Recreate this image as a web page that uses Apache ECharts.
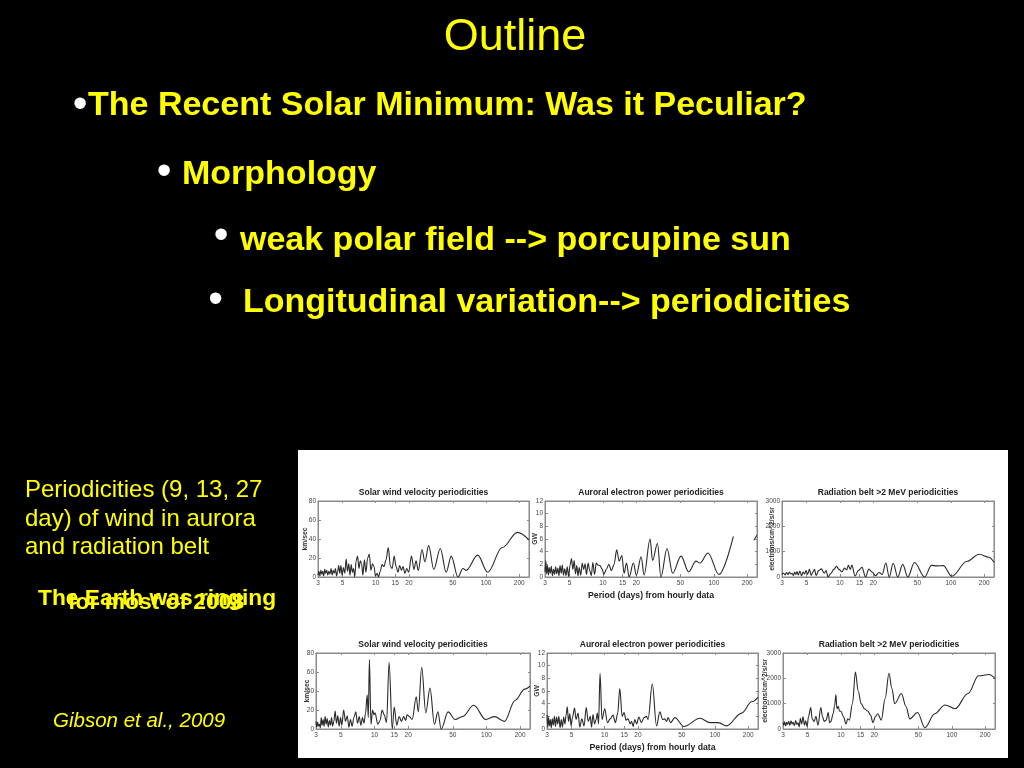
<!DOCTYPE html>
<html>
<head>
<meta charset="utf-8">
<script src="https://cdn.jsdelivr.net/npm/echarts@6/dist/echarts.min.js"></script>
<style>
html,body{margin:0;padding:0;background:#000;}
#chart{width:1024px;height:768px;}
</style>
</head>
<body>
<div id="chart"></div>
<script>
// ---------- DATA ----------
const xTickValues = [3, 5, 10, 15, 20, 50, 100, 200];
const X_MIN = 3, X_MAX = 245;

const chartTitles = [
  'Solar wind velocity periodicities',
  'Auroral electron power periodicities',
  'Radiation belt >2 MeV periodicities',
  'Solar wind velocity periodicities',
  'Auroral electron power periodicities',
  'Radiation belt >2 MeV periodicities'
];
const yNames = ['km/sec', 'GW', 'electrons/cm^2/s/sr', 'km/sec', 'GW', 'electrons/cm^2/s/sr'];
const yMaxes = [80, 12, 3000, 80, 12, 3000];
const yIntervals = [20, 2, 1000, 20, 2, 1000];
const xAxisName = 'Period (days) from hourly data';

// top-left: solar wind velocity (first period)
const swTopPeriod = [3.0,3.06,3.12,3.18,3.25,3.31,3.38,3.45,3.52,3.6,3.68,3.76,3.85,3.94,4.03,4.12,4.22,4.32,4.42,4.52,4.62,4.72,4.84,4.96,5.1,5.25,5.4,5.55,5.7,5.85,6.0,6.15,6.3,6.45,6.65,6.85,7.05,7.25,7.45,7.65,7.9,8.15,8.45,8.75,9.05,9.35,9.65,9.95,10.3,10.6,11.0,11.4,11.9,12.4,13.0,13.6,14.1,14.7,15.3,15.9,16.5,17.1,17.7,18.4,19.1,19.9,21.1,22.2,23.2,24.3,26.3,27.9,30.2,33.6,38.5,43.5,48.4,55.6,61.7,66,84,103.5,140,193,245];
const swTopValue  = [2,6,1,7,3,6,1,8,4,7,2,6,3,9,2,7,4,9,1,6,12,4,12,2,10,4,19,6,14,2,13,5,9,0,17,22,9,17,14,2,18,5,20,24,7,14,11,1,4,0,6,13,11,18,31,11,9,22,11,5,12,7,11,4,9,5,22,8,17,7,29,16,33,8,30,5,22,0,9,7,23,5,31,47,39];

// top-middle: auroral electron power (first period)
const auTopPeriod = [3.0,3.05,3.1,3.16,3.22,3.28,3.35,3.42,3.5,3.58,3.66,3.74,3.83,3.92,4.01,4.1,4.2,4.3,4.4,4.52,4.64,4.76,4.9,5.05,5.2,5.35,5.5,5.65,5.8,5.95,6.1,6.3,6.5,6.7,6.9,7.1,7.35,7.6,7.85,8.1,8.4,8.7,9.0,9.4,9.8,10.2,10.7,11.3,11.9,12.6,13.3,14.0,14.8,15.5,16.3,17.2,18.8,20.0,22.1,23.5,26.6,28.0,31.0,33.3,37.8,42.5,50.6,59.3,69,75,88.5,111,150,152,229,245];
const auTopValue  = [0.8,2.6,0.5,1.8,0.3,1.5,0.6,1.7,0.2,1.2,0.4,1.6,0.5,1.4,0.2,1.8,0.6,1.9,0.3,1.3,0.2,1.6,0.1,1.9,2.9,1.2,2.6,0.5,1.8,0.2,1.5,0.3,2.2,1.2,2.1,0.4,2.2,1.0,0.2,2.3,0.4,2.2,1.9,1.8,1.3,0.4,1.2,2.0,1.0,2.0,4.3,2.5,3.4,0.6,2.2,0,2.2,0.3,3.2,0.3,6.0,2.6,5.3,0,4.5,0.6,3.3,0.8,2.5,2.2,3.8,0.4,6.4,null,5.8,6.6];

// top-right: radiation belt (first period)
const rbTopPeriod = [3.0,3.1,3.2,3.3,3.4,3.5,3.6,3.7,3.8,3.9,4.0,4.1,4.2,4.35,4.5,4.65,4.8,4.95,5.1,5.3,5.5,5.7,5.9,6.1,6.4,6.8,7.2,7.5,7.8,8.3,8.8,9.3,9.8,10.4,11.0,11.5,11.9,12.4,12.8,13.7,14.6,15.8,17.0,18.2,19.5,20.9,22.5,24.0,25.9,27.8,30.2,33.2,36.8,40.9,47,58,67,75,85.6,102,140,180,220,245];
const rbTopValue  = [100,150,80,180,100,200,120,150,60,200,100,220,80,230,50,200,120,250,100,300,60,200,300,50,250,320,150,250,0,150,300,420,300,200,350,280,460,300,470,40,250,380,0,310,200,50,180,100,550,0,540,0,500,0,570,0,460,440,450,30,620,900,780,580];

// bottom-left: solar wind velocity (second period)
const swBotPeriod = [3.0,3.05,3.1,3.16,3.22,3.28,3.34,3.4,3.47,3.54,3.62,3.7,3.78,3.86,3.95,4.04,4.13,4.22,4.33,4.45,4.57,4.7,4.83,4.97,5.1,5.3,5.5,5.7,5.9,6.1,6.3,6.55,6.8,7.05,7.3,7.55,7.8,8.05,8.3,8.6,8.8,9.0,9.3,9.6,9.9,10.1,10.7,11.2,11.7,12.2,12.8,13.5,14.4,15.0,15.8,16.6,17.4,18.2,19.0,19.5,20.5,21.7,23.6,24.6,26.4,28.7,31.3,34.3,36.8,39.4,45.5,52.5,61,77,98.6,118,145,180,220,245];
const swBotValue  = [8,2,7,3,5,1,12,4,10,3,13,5,11,2,9,4,12,3,8,19,6,14,3,12,4,20,8,14,2,10,3,12,18,6,13,4,12,6,16,36,12,73,5,20,15,17,5,9,20,15,7,70,0,23,4,13,8,13,9,15,13,10,34,18,65,17,43,5,18,0,18,10,13,25,10,13,8,30,42,45];

// bottom-middle: auroral electron power (second period)
const auBotPeriod = [3.0,3.05,3.1,3.16,3.22,3.28,3.35,3.42,3.5,3.58,3.66,3.75,3.84,3.94,4.04,4.14,4.25,4.36,4.47,4.58,4.7,4.83,4.96,5.1,5.33,5.5,5.73,5.95,6.2,6.5,6.8,7.1,7.4,7.6,7.83,8.1,8.35,8.58,8.8,9.07,9.46,10.0,10.6,11.2,11.9,12.5,13.1,13.7,14.4,14.98,15.6,16.3,17.0,17.5,18.1,18.75,19.5,20.4,21.5,22.7,23.9,24.7,27.0,29.5,31.6,33.5,35,36.3,37.6,39.5,43.2,52.2,73,90,107,127,174,215,245];
const auBotValue  = [2.2,0.3,1.8,0.5,1.5,0.2,1.6,0.6,2.0,0.4,1.9,0.8,2.0,0.2,1.5,0.3,1.9,0.8,2.2,3.5,1.2,2.4,0.5,1.8,3.3,1.5,2.5,0.3,1.6,0.5,3.4,1.2,2.0,0.3,2.3,0.8,1.5,2.5,0.8,8.8,1.5,3.2,1.0,1.6,2.2,1.0,2.4,6.4,2.0,2.6,1.4,1.6,0.8,1.2,0.4,1.5,0.8,1.9,1.0,1.8,2.0,1.5,7.1,0.5,2.7,1.5,1.6,1.2,1.8,1.0,1.8,0.4,1.7,1.0,1.0,0.5,2.5,4.3,5.0];

// bottom-right: radiation belt (second period)
const rbBotPeriod = [3.0,3.05,3.1,3.17,3.24,3.3,3.38,3.46,3.54,3.62,3.7,3.8,3.9,4.0,4.1,4.2,4.3,4.42,4.55,4.68,4.8,4.95,5.1,5.34,5.5,5.73,5.95,6.2,6.58,6.8,7.05,7.35,7.67,7.9,8.11,8.5,8.75,9.0,9.2,9.46,9.7,10.0,10.5,11.1,11.5,11.9,12.7,13.5,14.3,15.2,16.3,17.5,18.5,19.4,20.5,21.5,23.1,25,27.1,28.8,30.5,35.1,38.5,41.8,49,57.2,70,86.8,107,140,174,216,245];
const rbBotValue  = [250,150,280,120,260,180,300,140,320,200,260,130,330,180,240,80,420,200,480,150,320,100,500,850,400,300,500,150,850,500,300,350,650,250,300,600,900,1350,800,900,700,700,500,200,400,350,1000,2250,1500,1000,800,700,550,250,500,600,350,1200,2200,1600,1000,1400,900,400,650,50,600,950,800,1400,2100,2150,2000];

const periodSets = [swTopPeriod, auTopPeriod, rbTopPeriod, swBotPeriod, auBotPeriod, rbBotPeriod];
const valueSets  = [swTopValue, auTopValue, rbTopValue, swBotValue, auBotValue, rbBotValue];

// ---------- LAYOUT ----------
const grids = [
  {left: 318, top: 501, width: 211, height: 76},
  {left: 545, top: 501, width: 212, height: 76},
  {left: 782, top: 501, width: 212, height: 76},
  {left: 316, top: 653, width: 214, height: 76},
  {left: 547, top: 653, width: 211, height: 76},
  {left: 783, top: 653, width: 212, height: 76}
];
const yNameGaps = [9, 6, 6, 5, 6, 14];

const FONT = '"Liberation Sans", Arial, Helvetica, sans-serif';
const YEL = '#ffff00';
const AX = '#8a8a8a';
const tickLogs = xTickValues.map(v => Math.log10(v));

const xAxes = [], yAxes = [], series = [], gridOpts = [];
grids.forEach((g, i) => {
  gridOpts.push(Object.assign({show: true, borderColor: AX, borderWidth: 1, backgroundColor: 'transparent'}, g));
});
grids.forEach((g, i) => {
  xAxes.push({
    gridIndex: i, type: 'value', position: 'bottom',
    min: Math.log10(X_MIN), max: Math.log10(X_MAX),
    axisLine: {show: true, onZero: false, lineStyle: {color: AX, width: 1}},
    axisTick: {show: true, inside: true, length: 3, customValues: tickLogs, lineStyle: {color: AX}},
    axisLabel: {show: true, customValues: tickLogs, margin: 3, fontSize: 6.5, color: '#444', fontFamily: FONT,
      formatter: v => String(Math.round(Math.pow(10, v)))},
    splitLine: {show: false},
    name: (i === 1 || i === 4) ? xAxisName : '',
    nameLocation: 'middle', nameGap: 14, nameMoveOverlap: false,
    nameTextStyle: {fontSize: 8.7, fontWeight: 'bold', color: '#222', fontFamily: FONT}
  });
});
grids.forEach((g, i) => {
  xAxes.push({
    gridIndex: i, type: 'value', position: 'top',
    min: Math.log10(X_MIN), max: Math.log10(X_MAX),
    axisLine: {show: true, onZero: false, lineStyle: {color: AX, width: 1}},
    axisTick: {show: true, inside: true, length: 2, customValues: tickLogs, lineStyle: {color: AX}},
    axisLabel: {show: false},
    splitLine: {show: false}
  });
});
grids.forEach((g, i) => {
  yAxes.push({
    gridIndex: i, type: 'value', position: 'left',
    min: 0, max: yMaxes[i], interval: yIntervals[i],
    axisLine: {show: true, onZero: false, lineStyle: {color: AX, width: 1}},
    axisTick: {show: true, inside: true, length: 3, lineStyle: {color: AX}},
    axisLabel: {margin: 2, fontSize: 6.5, color: '#444', fontFamily: FONT, formatter: v => String(v)},
    splitLine: {show: false},
    name: yNames[i], nameLocation: 'middle', nameGap: yNameGaps[i], nameRotate: 90, nameMoveOverlap: false,
    nameTextStyle: {fontSize: 6.8, fontWeight: 'bold', color: '#333', fontFamily: FONT}
  });
});
grids.forEach((g, i) => {
  yAxes.push({
    gridIndex: i, type: 'value', position: 'right',
    min: 0, max: yMaxes[i], interval: yIntervals[i],
    axisLine: {show: true, onZero: false, lineStyle: {color: AX, width: 1}},
    axisTick: {show: true, inside: true, length: 2, lineStyle: {color: AX}},
    axisLabel: {show: false},
    splitLine: {show: false}
  });
});
grids.forEach((g, i) => {
  series.push({
    type: 'line', xAxisIndex: i, yAxisIndex: i,
    data: periodSets[i].map((p, k) => [Math.log10(p), valueSets[i][k] === null ? '-' : valueSets[i][k]]),
    showSymbol: false, symbol: 'none',
    smooth: 0.35, smoothMonotone: 'x',
    connectNulls: false,
    lineStyle: {color: '#2a2a2a', width: 1.1},
    z: 5
  });
});

function txt(text, x, y, font, fill, align) {
  return {type: 'text', x: x, y: y, z: 100,
    style: {text: text, font: font, fill: fill, align: align || 'left', verticalAlign: 'middle'}};
}

const BF = 'bold 34px ' + FONT;
const BUL = '42px ' + FONT;
const graphics = [
  {type: 'rect', shape: {x: 298, y: 450, width: 710, height: 308}, style: {fill: '#ffffff'}, z: -100},
  txt('Outline', 515, 38, '45px ' + FONT, YEL, 'center'),
  txt('•', 80, 105, BUL, '#ffffff', 'center'),
  txt('The Recent Solar Minimum: Was it Peculiar?', 88, 106, BF, YEL),
  txt('•', 164, 172, BUL, '#ffffff', 'center'),
  txt('Morphology', 182, 175, BF, YEL),
  txt('•', 221, 236, BUL, '#ffffff', 'center'),
  txt('weak polar field --> porcupine sun', 240, 241, BF, YEL),
  txt('•', 215.5, 300, BUL, '#ffffff', 'center'),
  txt('Longitudinal variation--> periodicities', 243, 303, BF, YEL),
  txt('Periodicities (9, 13, 27', 25, 490, '24px ' + FONT, YEL),
  txt('day) of wind in aurora', 25, 519, '24px ' + FONT, YEL),
  txt('and radiation belt', 25, 547, '24px ' + FONT, YEL),
  txt('The Earth was ringing', 38, 599, 'bold 22.8px ' + FONT, YEL),
  txt('for most of 2008', 68, 603, 'bold 22.8px ' + FONT, YEL),
  txt('Gibson et al., 2009', 53, 721, 'italic 20.5px ' + FONT, YEL)
];
grids.forEach((g, i) => {
  graphics.push(txt(chartTitles[i], g.left + g.width / 2, g.top - 8, 'bold 8.5px ' + FONT, '#222', 'center'));
});

const chart = echarts.init(document.getElementById('chart'), null, {renderer: 'canvas'});
chart.setOption({
  backgroundColor: '#000000',
  animation: false,
  grid: gridOpts,
  xAxis: xAxes,
  yAxis: yAxes,
  series: series,
  graphic: graphics
});
</script>
</body>
</html>
